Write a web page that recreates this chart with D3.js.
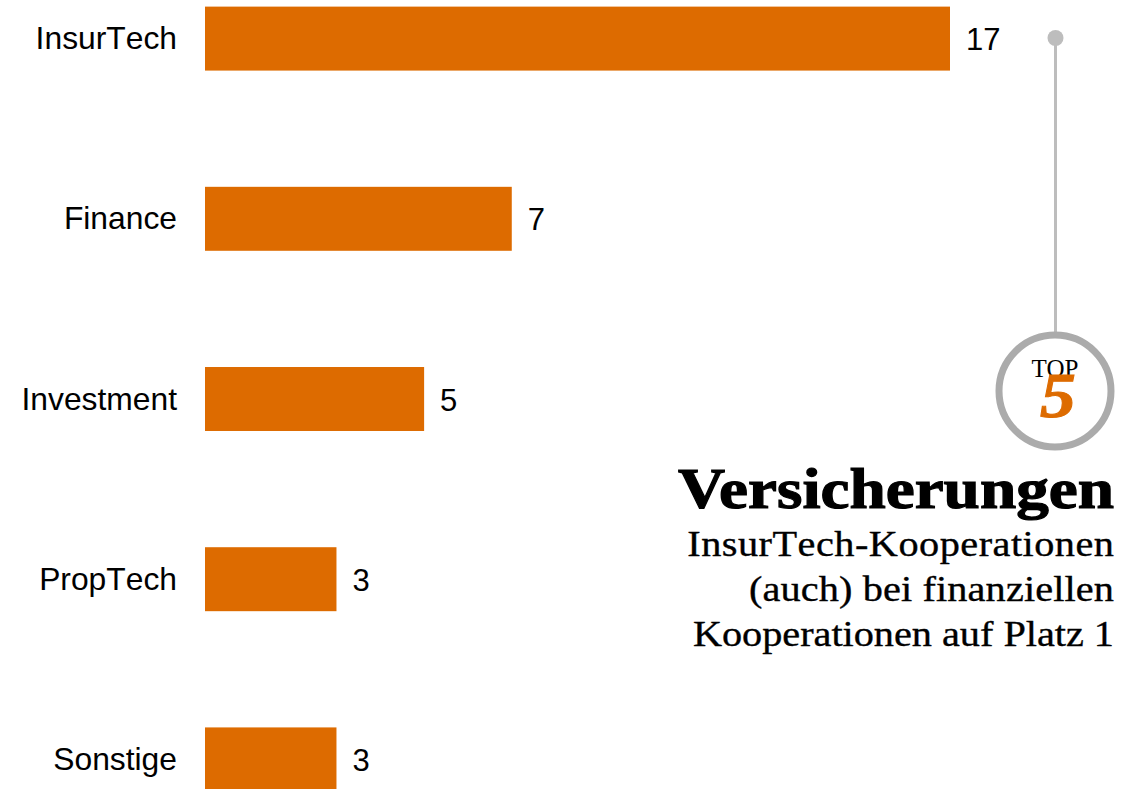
<!DOCTYPE html>
<html>
<head>
<meta charset="utf-8">
<script src="https://cdn.jsdelivr.net/npm/d3@7"></script>
<style>
html, body { margin: 0; padding: 0; background: #fff; }
svg { display: block; }
.label, .value { font-family: "Liberation Sans", Arial, sans-serif; fill: #000; font-kerning: none; }
.label { font-size: 31.8px; }
.value { font-size: 31px; }
.serif { font-family: "Liberation Serif", serif; }
.sub { font-kerning: none; }
</style>
</head>
<body>
<svg width="1126" height="789"></svg>
<script>
var categories = ["InsurTech", "Finance", "Investment", "PropTech", "Sonstige"];
var values = [17, 7, 5, 3, 3];
var subtitleLines = ["InsurTech-Kooperationen", "(auch) bei finanziellen", "Kooperationen auf Platz 1"];

var svg = d3.select("svg");
var orange = "#dd6b00";

var x = d3.scaleLinear().domain([0, 17]).range([205, 950]);
var y = d3.scaleBand().domain(categories).range([-51.5, 849.5]).paddingInner(0.645).paddingOuter(0.645 / 2);

svg.selectAll("rect.bar")
    .data(values)
  .enter().append("rect")
    .attr("class", "bar")
    .attr("x", x(0))
    .attr("y", function(d, i) { return y(categories[i]); })
    .attr("width", function(d) { return x(d) - x(0); })
    .attr("height", y.bandwidth())
    .attr("fill", orange);

svg.selectAll("text.label")
    .data(categories)
  .enter().append("text")
    .attr("class", "label")
    .attr("x", 177)
    .attr("y", function(d) { return y(d) + y.bandwidth() / 2 + 10.5; })
    .attr("text-anchor", "end")
    .text(function(d) { return d; });

svg.selectAll("text.value")
    .data(values)
  .enter().append("text")
    .attr("class", "value")
    .attr("x", function(d) { return x(d) + 16; })
    .attr("y", function(d, i) { return y(categories[i]) + y.bandwidth() / 2 + 11.5; })
    .text(function(d) { return d; });

// Top 5 badge
svg.append("line").attr("x1", 1055.5).attr("x2", 1055.5).attr("y1", 38).attr("y2", 335)
    .attr("stroke", "#bdbdbd").attr("stroke-width", 3);
svg.append("circle").attr("cx", 1055.5).attr("cy", 38).attr("r", 8).attr("fill", "#bdbdbd");
svg.append("circle").attr("cx", 1055).attr("cy", 391).attr("r", 56)
    .attr("fill", "#fff").attr("stroke", "#ababab").attr("stroke-width", 7);
svg.append("text").attr("class", "serif").attr("x", 1055).attr("y", 377)
    .attr("text-anchor", "middle").attr("font-size", 25).text("TOP");
svg.append("text").attr("class", "serif")
    .attr("transform", "translate(1058,417) scale(1.12,1)")
    .attr("text-anchor", "middle").attr("font-size", 64).attr("font-weight", "bold")
    .attr("font-style", "italic").attr("fill", orange).attr("stroke", orange).attr("stroke-width", 1).text("5");

// title is a fat display face in the original, so widen and thicken the bold serif
svg.append("text").attr("class", "serif").attr("x", 678).attr("y", 508)
    .attr("font-size", 58).attr("font-weight", "bold")
    .attr("stroke", "#000").attr("stroke-width", 1.2)
    .attr("textLength", 436).attr("lengthAdjust", "spacingAndGlyphs").text("Versicherungen");

var subWidths = [381, 326, 376];
svg.selectAll("text.sub")
    .data(subtitleLines)
  .enter().append("text")
    .attr("class", "sub serif")
    .attr("transform", function(d, i) { return "translate(1114," + (556 + i * 45) + ") scale(1.12,1)"; })
    .attr("text-anchor", "end")
    .attr("font-size", 36)
    .attr("stroke", "#000").attr("stroke-width", 0.35)
    .attr("textLength", function(d, i) { return subWidths[i]; })
    .attr("lengthAdjust", "spacing")
    .text(function(d) { return d; });
</script>
</body>
</html>
